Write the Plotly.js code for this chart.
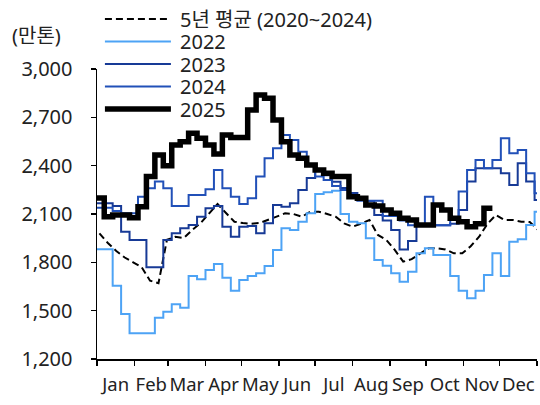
<!DOCTYPE html>
<html><head><meta charset="utf-8">
<script src="https://cdn.plot.ly/plotly-3.0.1.min.js"></script>
<style>html,body{margin:0;padding:0;background:#fff}#chart{width:540px;height:405px}</style>
</head><body><div id="chart"></div>
<script>
// ---- data (weekly values, 만톤) ----
const monthLabels = ['Jan','Feb','Mar','Apr','May','Jun','Jul','Aug','Sep','Oct','Nov','Dec'];
const seriesNames = ['5년 평균 (2020~2024)','2022','2023','2024','2025'];
const yTicks = [1200,1500,1800,2100,2400,2700,3000];
const avg5 = [1980,1920,1870,1830,1800,1771,1686,1670,1940,1959,1951,2001,2044,2106,2162,2106,2052,2044,2040,2044,2063,2083,2104,2100,2083,2114,2114,2100,2083,2042,2021,2040,2063,1970,1939,1877,1804,1820,1856,1887,1887,1880,1856,1856,1900,1959,2040,2094,2063,2063,2052,2050,2001];
const y2022 = [1881,1881,1655,1479,1360,1360,1360,1456,1494,1540,1518,1715,1695,1752,1790,1705,1624,1690,1715,1732,1777,1877,2011,2001,2052,2104,2224,2235,2245,2100,2052,2042,1949,1815,1779,1732,1680,1742,1856,1887,1846,1846,1715,1624,1577,1624,1721,1856,1715,1928,1943,2032,2114];
const y2023 = [2166,2166,2150,1990,1939,1939,1769,1769,1939,1980,2011,2032,2083,2135,2150,2021,1959,2021,2025,1980,2042,2156,2145,2166,2249,2324,2373,2340,2300,2262,2230,2200,2180,2094,2060,2000,1879,1932,2026,2030,2030,2030,2040,2125,2301,2384,2384,2384,2353,2280,2415,2301,2187];
const y2024 = [2139,2139,2119,2104,2104,2207,2260,2301,2260,2150,2150,2218,2218,2253,2373,2260,2207,2162,2197,2332,2446,2508,2590,2559,2487,2400,2332,2311,2274,2249,2202,2182,2182,2182,2088,2088,2060,2030,2030,2207,2030,2030,2063,2239,2373,2435,2384,2435,2570,2477,2497,2353,2229];
const y2025 = [2200,2083,2094,2094,2077,2145,2332,2466,2400,2528,2549,2601,2570,2528,2473,2590,2575,2575,2746,2839,2818,2684,2549,2466,2446,2404,2373,2353,2332,2332,2207,2197,2156,2150,2125,2104,2073,2063,2032,2032,2156,2125,2073,2052,2021,2040,2135];

// ---- helpers ----
function weekDate(k, extraDays){
  const d = new Date(Date.UTC(2024,11,31));
  d.setUTCDate(d.getUTCDate() + 7*k + (extraDays||0));
  return d.toISOString().slice(0,10);
}
function stepXY(vals){
  const xs = vals.map((v,k)=>weekDate(k));
  xs.push(weekDate(vals.length));
  const ys = vals.concat([vals[vals.length-1]]);
  return {x:xs, y:ys};
}
const monthStarts = [];
const monthMids = [];
for(let m=0;m<12;m++){
  const s = Date.UTC(2025,m,1), e = Date.UTC(2025,m+1,1);
  monthStarts.push(new Date(s).toISOString().slice(0,10));
  monthMids.push(new Date((s+e)/2).toISOString().slice(0,19).replace('T',' '));
}
monthStarts.push('2026-01-01');

const FONT = '"Noto Sans", "Noto Sans CJK KR", sans-serif';
const styles = [
  {color:'#000', width:2, dash:'7px,4px'},
  {color:'#4da3f5', width:2, shape:'hv'},
  {color:'#173a96', width:2, shape:'hv'},
  {color:'#2150b8', width:2, shape:'hv'},
  {color:'#000', width:5.5, shape:'hv'}
];
const s22 = stepXY(y2022), s23 = stepXY(y2023), s24 = stepXY(y2024), s25 = stepXY(y2025);
const traces = [
  {x: avg5.map((v,k)=>weekDate(k,3)), y: avg5, name: seriesNames[0], mode:'lines', line:styles[0]},
  {x: s22.x, y: s22.y, name: seriesNames[1], mode:'lines', line:styles[1]},
  {x: s23.x, y: s23.y, name: seriesNames[2], mode:'lines', line:styles[2]},
  {x: s24.x, y: s24.y, name: seriesNames[3], mode:'lines', line:styles[3]},
  {x: s25.x, y: s25.y, name: seriesNames[4], mode:'lines', line:styles[4]}
];

// manual legend (tight row spacing like the reference)
const legTop = 1.1724, legStep = 0.0776;
const legendShapes = [], legendTexts = [];
seriesNames.forEach((nm,i)=>{
  const yy = legTop - i*legStep;
  legendShapes.push({type:'line', xref:'paper', yref:'paper', x0:0.018, x1:0.168, y0:yy, y1:yy,
    line:{color:styles[i].color, width:styles[i].width, dash: styles[i].dash || 'solid'}});
  legendTexts.push({text:nm, xref:'paper', yref:'paper', x:0.184, y:yy, xanchor:'left', yanchor:'middle',
    showarrow:false, font:{family:FONT, size:20, color:'#222'}});
});

const layout = {
  width:540, height:405,
  margin:{l:97, r:3, t:69, b:46},
  paper_bgcolor:'#fff', plot_bgcolor:'#fff',
  font:{family:FONT, size:20, color:'#222'},
  showlegend:false,
  xaxis:{type:'date', range:['2025-01-01','2026-01-01'],
         tickmode:'array', tickvals:monthMids, ticktext:monthLabels, ticks:'', tickangle:0,
         minor:{tickmode:'array', tickvals:monthStarts, ticks:'outside', ticklen:5, tickwidth:1.5, tickcolor:'#000', showgrid:false},
         showline:true, linecolor:'#000', linewidth:1.5, showgrid:false, zeroline:false,
         ticklabelstandoff:8, tickfont:{family:FONT, size:18.5, color:'#222'}},
  yaxis:{range:[1200,3000], tickmode:'array', tickvals:yTicks, tickformat:',d',
         ticks:'outside', ticklen:5, tickwidth:1.5, tickcolor:'#000',
         showline:true, linecolor:'#000', linewidth:1.5, showgrid:false, zeroline:false,
         ticklabelstandoff:14, tickfont:{family:FONT, size:20, color:'#222'}},
  shapes: legendShapes,
  annotations:[{text:'(만톤)', xref:'paper', yref:'paper', x:-0.197, y:1.117, xanchor:'left', yanchor:'middle',
                showarrow:false, font:{family:FONT, size:20, color:'#222'}}].concat(legendTexts)
};
Plotly.newPlot('chart', traces, layout, {displayModeBar:false, staticPlot:true});
</script>
</body></html>
